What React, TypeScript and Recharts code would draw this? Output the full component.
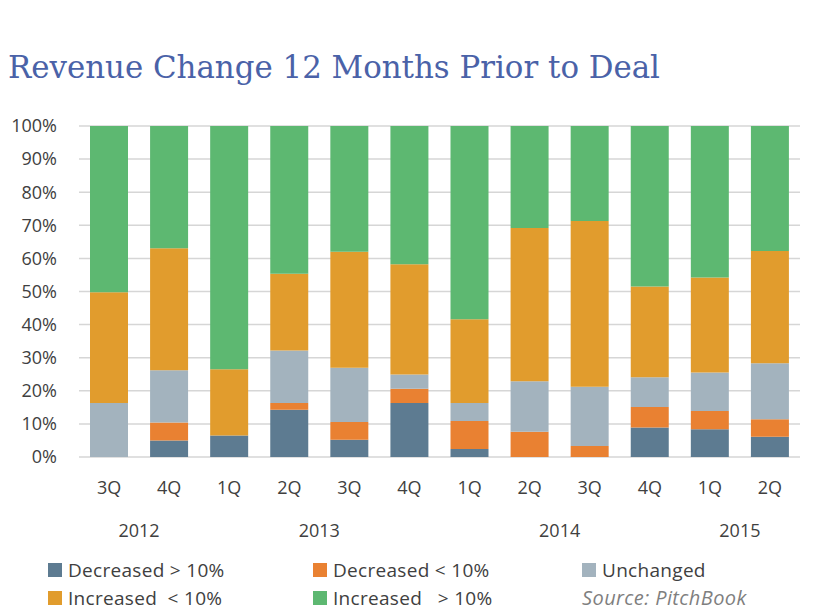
import React from "react";
import { BarChart, Bar, XAxis, YAxis, CartesianGrid } from "recharts";

// values, percent of deals per quarter
const quarters = ["3Q", "4Q", "1Q", "2Q", "3Q", "4Q", "1Q", "2Q", "3Q", "4Q", "1Q", "2Q"];
const years = ["2012", "2012", "2013", "2013", "2013", "2013", "2014", "2014", "2014", "2014", "2015", "2015"];
const decreasedOver10 = [0, 5.0, 6.5, 14.3, 5.2, 16.3, 2.4, 0, 0, 8.9, 8.4, 6.1];
const decreasedUnder10 = [0, 5.4, 0, 2.0, 5.4, 4.3, 8.5, 7.6, 3.3, 6.2, 5.5, 5.3];
const unchanged = [16.3, 15.8, 0, 15.9, 16.4, 4.3, 5.4, 15.3, 17.9, 9.0, 11.6, 16.9];
const increasedUnder10 = [33.5, 36.9, 20.0, 23.2, 35.0, 33.3, 25.3, 46.3, 50.1, 27.4, 28.7, 33.9];
const increasedOver10 = [50.2, 36.9, 73.5, 44.6, 38.0, 41.8, 58.4, 30.8, 28.7, 48.5, 45.8, 37.8];
const yTicks = [0, 10, 20, 30, 40, 50, 60, 70, 80, 90, 100];

const SERIES = [
  { key: "decOver", name: "Decreased > 10%", color: "#5d7b91" },
  { key: "decUnder", name: "Decreased < 10%", color: "#e98132" },
  { key: "unchanged", name: "Unchanged", color: "#a3b3be" },
  { key: "incUnder", name: "Increased \u00a0< 10%", color: "#e19c2d" },
  { key: "incOver", name: "Increased \u00a0 > 10%", color: "#5db871" },
];

const data = quarters.map((q, i) => ({
  q,
  year: years[i],
  decOver: decreasedOver10[i],
  decUnder: decreasedUnder10[i],
  unchanged: unchanged[i],
  incUnder: increasedUnder10[i],
  incOver: increasedOver10[i],
}));

const FONT = "'Open Sans', sans-serif";
const TEXT = "#404040";

// year label drawn once, under the middle of its run of quarters
const YearTick = (props: any) => {
  const { x, y, payload } = props;
  const i = payload.index;
  if (i > 0 && years[i - 1] === years[i]) return null;
  let n = 0;
  while (i + n < years.length && years[i + n] === years[i]) n++;
  const band = (payload.offset ?? 30) * 2;
  return (
    <text x={x + ((n - 1) / 2) * band} y={y} dy="0.71em" textAnchor="middle" fill={TEXT} fontSize={18} fontFamily={FONT}>
      {years[i]}
    </text>
  );
};

const LegendItem = ({ name, color }: { name: string; color: string }) => (
  <div style={{ display: "flex", alignItems: "center", whiteSpace: "pre" }}>
    <span style={{ width: 14, height: 14, background: color, marginRight: 6, display: "inline-block" }} />
    <span>{name}</span>
  </div>
);

export default function App() {
  const cols = [48, 313, 582];
  return (
    <div style={{ position: "absolute", left: 0, top: 0, width: 823, height: 611, background: "#fff" }}>
      <svg width={823} height={100} style={{ position: "absolute", left: 0, top: 0 }}>
        <text
          x={8}
          y={78}
          fill="#4a62a8"
          fontSize={31}
          fontFamily="'DejaVu Serif Condensed', 'DejaVu Serif', serif"
          textLength={652}
          lengthAdjust="spacingAndGlyphs"
        >
          Revenue Change 12 Months Prior to Deal
        </text>
      </svg>
      <BarChart
        width={823}
        height={611}
        data={data}
        margin={{ top: 126, right: 23, bottom: 94, left: 0 }}
        barSize={38}
        style={{ position: "absolute", left: 0, top: 0 }}
      >
        <CartesianGrid vertical={false} stroke="#d6d6d6" strokeWidth={1.5} />
        <YAxis
          width={79}
          domain={[0, 100]}
          ticks={yTicks}
          tickFormatter={(v) => `${v}%`}
          axisLine={false}
          tickLine={false}
          tickMargin={16}
          tick={{ fill: TEXT, fontSize: 18, fontFamily: FONT }}
        />
        <XAxis
          dataKey="q"
          height={30}
          axisLine={false}
          tickLine={false}
          tickMargin={18}
          interval={0}
          tick={{ fill: TEXT, fontSize: 18, fontFamily: FONT }}
        />
        <XAxis
          xAxisId="year"
          dataKey="q"
          height={30}
          axisLine={false}
          tickLine={false}
          tickMargin={31}
          interval={0}
          tick={<YearTick />}
        />
        {SERIES.map((s) => (
          <Bar key={s.key} dataKey={s.key} name={s.name} stackId="a" fill={s.color} isAnimationActive={false} />
        ))}
      </BarChart>
      <div
        style={{ position: "absolute", left: 0, top: 0, fontFamily: FONT, fontSize: 19, letterSpacing: 0.3, color: TEXT }}
      >
        {SERIES.map((s, i) => (
          <div key={s.key} style={{ position: "absolute", left: cols[i % 3], top: i < 3 ? 557 : 585 }}>
            <LegendItem name={s.name} color={s.color} />
          </div>
        ))}
        <div
          style={{
            position: "absolute",
            left: 582,
            top: 584,
            fontSize: 20,
            fontStyle: "italic",
            color: "#7f7f7f",
            whiteSpace: "nowrap",
            letterSpacing: 0.4,
          }}
        >
          Source: PitchBook
        </div>
      </div>
    </div>
  );
}
